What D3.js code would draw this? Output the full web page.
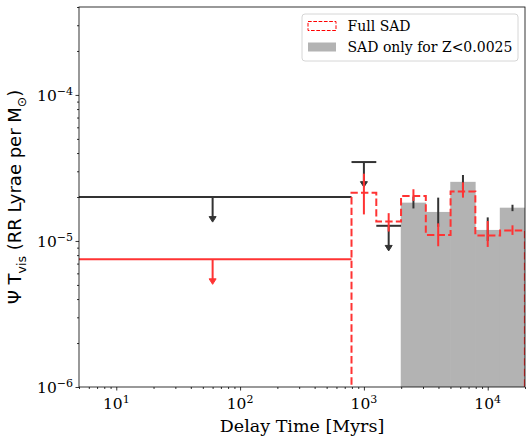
<!DOCTYPE html>
<html>
<head>
<meta charset="utf-8">
<script src="https://cdn.jsdelivr.net/npm/d3@7"></script>
<style>
  body { margin: 0; background: #fff; }
  svg { display: block; }
  .serif { font-family: 'DejaVu Serif', 'Liberation Serif', 'Times New Roman', 'Noto Serif', Times, serif; }
  .sans { font-family: 'DejaVu Sans', sans-serif; }
</style>
</head>
<body>
<div id="chart"></div>
<script>
// bin edges of the delay time histogram [Myrs]
const binEdges = [794, 1259, 1995, 3162, 5012, 7943, 12589, 19953]

// Full SAD (red dashed) with its error bars
const fullSAD = [2.14e-5, 1.36e-5, 2.03e-5, 1.10e-5, 2.18e-5, 1.09e-5, 1.18e-5]
const fullLo = [1.52e-5, 1.16e-5, 1.88e-5, 9.2e-6, 1.98e-5, 9.1e-6, 1.10e-5]
const fullHi = [2.89e-5, 1.55e-5, 2.26e-5, 1.32e-5, 2.52e-5, 1.37e-5, 1.28e-5]

// SAD only for Z<0.0025 (grey) with error bars, null = upper limit only
const lowZ = [null, null, 1.83e-5, 1.58e-5, 2.54e-5, 1.19e-5, 1.69e-5]
const lowZLo = [null, null, 1.67e-5, 1.25e-5, 2.25e-5, 1.0e-5, 1.60e-5]
const lowZHi = [null, null, 2.01e-5, 1.98e-5, 2.83e-5, 1.45e-5, 1.77e-5]

// upper limits: {x0, x1, xc, value}
const lowZLimits = [
    { x0: 1, x1: 794, xc: 60, value: 2.0e-5 },
    { x0: 794, x1: 1259, xc: 1000, value: 3.47e-5 },
    { x0: 1259, x1: 1995, xc: 1585, value: 1.27e-5 }
]
const fullLimits = [
    { x0: 1, x1: 794, xc: 60, value: 7.5e-6 }
]

const xTicks = [10, 100, 1000, 10000]
const yTicks = [1e-6, 1e-5, 1e-4]

const fullWidth = 532
const fullHeight = 443
const margin = { top: 7, right: 7, bottom: 56, left: 79 },
    width = fullWidth - margin.left - margin.right,
    height = fullHeight - margin.top - margin.bottom

const black = '#333333'
const red = '#ff3333'
const grey = '#b3b3b3'

const svg = d3.select('#chart')
    .append('svg')
    .attr('width', fullWidth)
    .attr('height', fullHeight)

svg.append('defs').append('clipPath')
    .attr('id', 'clip')
    .append('rect')
    .attr('width', width)
    .attr('height', height)

const g = svg.append('g')
    .attr('transform', 'translate(' + margin.left + ',' + margin.top + ')')

const x = d3.scaleLog().domain([5, 20000]).range([0, width])
const y = d3.scaleLog().domain([1e-6, 4e-4]).range([height, 0])

const plot = g.append('g').attr('clip-path', 'url(#clip)')

// grey bars
const bins = lowZ.map((v, i) => ({ x0: binEdges[i], x1: binEdges[i + 1], v: v, lo: lowZLo[i], hi: lowZHi[i] }))
    .filter(d => d.v != null)

plot.selectAll('rect.lowz')
    .data(bins)
    .enter()
    .append('rect')
    .attr('class', 'lowz')
    .attr('x', d => x(d.x0) - 0.3)
    .attr('width', d => x(d.x1) - x(d.x0) + 0.6)
    .attr('y', d => y(d.v))
    .attr('height', d => height - y(d.v))
    .attr('fill', grey)

// black error bars on grey bars
plot.selectAll('line.lowzerr')
    .data(bins)
    .enter()
    .append('line')
    .attr('class', 'lowzerr')
    .attr('x1', d => x(Math.sqrt(d.x0 * d.x1)))
    .attr('x2', d => x(Math.sqrt(d.x0 * d.x1)))
    .attr('y1', d => y(d.lo))
    .attr('y2', d => y(d.hi))
    .attr('stroke', black)
    .attr('stroke-width', 2)

function drawLimits(data, color, cls) {
    const lg = plot.append('g').attr('class', cls)
    lg.selectAll('line.h')
        .data(data)
        .enter()
        .append('line')
        .attr('x1', d => x(d.x0))
        .attr('x2', d => x(d.x1))
        .attr('y1', d => y(d.value))
        .attr('y2', d => y(d.value))
        .attr('stroke', color)
        .attr('stroke-width', 2)
    lg.selectAll('line.v')
        .data(data)
        .enter()
        .append('line')
        .attr('x1', d => x(d.xc))
        .attr('x2', d => x(d.xc))
        .attr('y1', d => y(d.value))
        .attr('y2', d => y(d.value * 0.7) - 2)
        .attr('stroke', color)
        .attr('stroke-width', 2)
    return lg
}

function drawHeads(lg, data, color) {
    lg.selectAll('path.head')
        .data(data)
        .enter()
        .append('path')
        .attr('d', d => {
            let cx = x(d.xc), cy = y(d.value * 0.7)
            return 'M' + (cx - 3.5) + ',' + (cy - 3) + 'L' + (cx + 3.5) + ',' + (cy - 3) + 'L' + cx + ',' + (cy + 2.5) + 'Z'
        })
        .attr('fill', color)
        .attr('stroke', color)
        .attr('stroke-width', 1)
}

const lowLim = drawLimits(lowZLimits, black, 'lowzlim')

// red error bars
const fbins = fullSAD.map((v, i) => ({ x0: binEdges[i], x1: binEdges[i + 1], v: v, lo: fullLo[i], hi: fullHi[i] }))

plot.selectAll('line.fullerr')
    .data(fbins)
    .enter()
    .append('line')
    .attr('class', 'fullerr')
    .attr('x1', d => x(Math.sqrt(d.x0 * d.x1)))
    .attr('x2', d => x(Math.sqrt(d.x0 * d.x1)))
    .attr('y1', d => y(d.lo))
    .attr('y2', d => y(d.hi))
    .attr('stroke', red)
    .attr('stroke-width', 2)

const fullLim = drawLimits(fullLimits, red, 'fulllim')

// red dashed step outline
const stepPts = [[binEdges[0], 1e-7]]
fbins.forEach(d => { stepPts.push([d.x0, d.v]); stepPts.push([d.x1, d.v]) })
stepPts.push([binEdges[binEdges.length - 1], 1e-7])

plot.append('path')
    .datum(stepPts)
    .attr('fill', 'none')
    .attr('stroke', red)
    .attr('stroke-width', 2)
    .attr('stroke-dasharray', '7.4,3.2')
    .attr('d', d3.line().x(d => x(d[0])).y(d => y(d[1])))

drawHeads(lowLim, lowZLimits, black)
drawHeads(fullLim, fullLimits, red)

// axes
function minorTicks(domain) {
    let out = []
    for (let e = -8; e <= 6; e++) {
        for (let m = 2; m <= 9; m++) {
            let v = m * Math.pow(10, e)
            if (v >= domain[0] && v <= domain[1]) out.push(v)
        }
    }
    return out
}

function styleAxis(sel) {
    sel.select('.domain').remove()
    sel.selectAll('line').attr('stroke', '#000').attr('stroke-width', 0.8)
    sel.selectAll('text').remove()
}

g.append('g')
    .attr('transform', 'translate(0,' + height + ')')
    .call(d3.axisBottom(x).tickValues(xTicks).tickSize(3.5))
    .call(styleAxis)
g.append('g')
    .attr('transform', 'translate(0,' + height + ')')
    .call(d3.axisBottom(x).tickValues(minorTicks(x.domain())).tickSize(2))
    .call(styleAxis)
g.append('g')
    .call(d3.axisLeft(y).tickValues(yTicks).tickSize(3.5))
    .call(styleAxis)
g.append('g')
    .call(d3.axisLeft(y).tickValues(minorTicks(y.domain())).tickSize(2))
    .call(styleAxis)

g.append('rect')
    .attr('width', width)
    .attr('height', height)
    .attr('fill', 'none')
    .attr('stroke', '#000')
    .attr('stroke-width', 0.8)

function powLabel(sel, v) {
    let e = Math.round(Math.log10(v))
    sel.append('tspan').text('10')
    sel.append('tspan')
        .attr('dy', -6)
        .attr('font-size', 11)
        .text(e < 0 ? '\u2212' + (-e) : '' + e)
}

g.selectAll('text.xtick')
    .data(xTicks)
    .enter()
    .append('text')
    .attr('class', 'xtick serif')
    .attr('x', d => x(d))
    .attr('y', height + 22)
    .attr('text-anchor', 'middle')
    .attr('font-size', 15.5)
    .each(function (d) { powLabel(d3.select(this), d) })

g.selectAll('text.ytick')
    .data(yTicks)
    .enter()
    .append('text')
    .attr('class', 'ytick serif')
    .attr('x', -6)
    .attr('y', d => y(d) + 6)
    .attr('text-anchor', 'end')
    .attr('font-size', 15.5)
    .each(function (d) { powLabel(d3.select(this), d) })

// axis labels
g.append('text')
    .attr('class', 'serif')
    .attr('x', width / 2)
    .attr('y', height + 45)
    .attr('text-anchor', 'middle')
    .attr('font-size', 17.5)
    .text('Delay Time [Myrs]')

const ylab = svg.append('text')
    .attr('class', 'sans')
    .attr('transform', 'translate(21,' + (margin.top + height / 2) + ') rotate(-90)')
    .attr('text-anchor', 'middle')
    .attr('font-size', 18)
ylab.append('tspan').text('\u03a8 T')
ylab.append('tspan').attr('dy', 4.5).attr('font-size', 12.5).text('vis')
ylab.append('tspan').attr('dy', -4.5).text(' (RR Lyrae per M')
ylab.append('tspan').attr('dy', 4.5).attr('font-size', 12.5).text('\u2299')
ylab.append('tspan').attr('dy', -4.5).text(')')

// legend
const legendItems = [
    { label: 'Full SAD', type: 'dashed' },
    { label: 'SAD only for Z<0.0025', type: 'fill' }
]

const legend = svg.append('g').attr('transform', 'translate(302,14)')
legend.append('rect')
    .attr('width', 216)
    .attr('height', 47)
    .attr('rx', 3)
    .attr('fill', '#fff')
    .attr('fill-opacity', 0.8)
    .attr('stroke', '#cccccc')
    .attr('stroke-width', 0.8)

const item = legend.selectAll('g.item')
    .data(legendItems)
    .enter()
    .append('g')
    .attr('class', 'item')
    .attr('transform', (d, i) => 'translate(6,' + (7.5 + i * 21) + ')')

item.append('rect')
    .attr('width', 28)
    .attr('height', 9)
    .attr('fill', d => d.type == 'fill' ? grey : 'none')
    .attr('stroke', d => d.type == 'fill' ? 'none' : 'red')
    .attr('stroke-width', 1)
    .attr('stroke-dasharray', d => d.type == 'fill' ? null : '3.7,1.6')

item.append('text')
    .attr('class', 'serif')
    .attr('x', 39.5)
    .attr('y', 9.5)
    .attr('font-size', 14)
    .text(d => d.label)
</script>
</body>
</html>
